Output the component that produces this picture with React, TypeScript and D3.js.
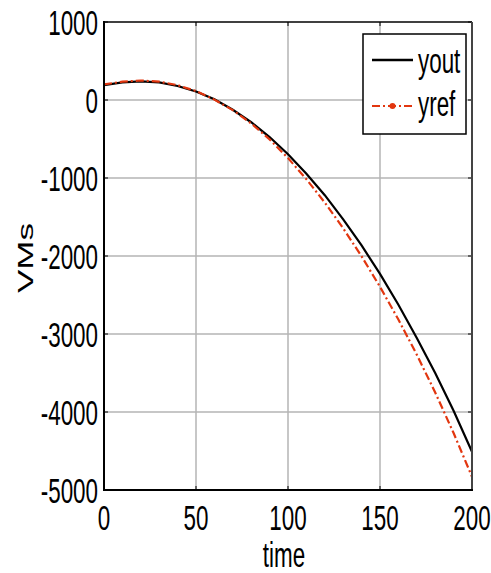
import React from 'react'
import * as d3 from 'd3'

const width = 491
const height = 573

// time samples and the two signals
const times = [0, 10, 20, 30, 40, 50, 60, 70, 80, 90, 100, 110, 120, 130, 140, 150, 160, 170, 180, 190, 200]
const yout = [190, 225, 240, 225, 180, 110, 10, -125, -285, -475, -695, -945, -1220, -1530, -1865, -2230, -2625, -3050, -3500, -3985, -4510]
const yref = [200, 235, 250, 235, 190, 115, 5, -130, -300, -505, -745, -1015, -1315, -1645, -2005, -2395, -2815, -3265, -3750, -4270, -4830]

const xTicks = [0, 50, 100, 150, 200]
const yTicks = [1000, 0, -1000, -2000, -3000, -4000, -5000]

const RED = '#e2360f'
const FONT = 'Liberation Sans, Arial, sans-serif'
const SX = 0.64

export default function App() {
    const left = 104, right = 472, top = 22, bottom = 490

    const x = d3.scaleLinear().domain([0, 200]).range([left, right])
    const y = d3.scaleLinear().domain([-5000, 1000]).range([bottom, top])

    const line = d3.line<number>()
        .x((_, i) => x(times[i]))
        .y(d => y(d))

    return (
        <svg width={width} height={height} style={{position: 'absolute', left: 0, top: 0, background: '#fff'}}>
            {/* grid */}
            {xTicks.slice(1, -1).map(t =>
                <line key={'gx' + t} x1={x(t)} x2={x(t)} y1={top} y2={bottom} stroke="#b4b4b4" strokeWidth={1.5} />
            )}
            {yTicks.slice(1, -1).map(t =>
                <line key={'gy' + t} x1={left} x2={right} y1={y(t)} y2={y(t)} stroke="#b4b4b4" strokeWidth={1.5} />
            )}

            {/* tick marks */}
            {xTicks.map(t => (
                <g key={'tx' + t}>
                    <line x1={x(t)} x2={x(t)} y1={bottom} y2={bottom - 4} stroke="#000" />
                    <line x1={x(t)} x2={x(t)} y1={top} y2={top + 4} stroke="#000" />
                </g>
            ))}
            {yTicks.map(t => (
                <g key={'ty' + t}>
                    <line x1={left} x2={left + 4} y1={y(t)} y2={y(t)} stroke="#000" />
                    <line x1={right} x2={right - 4} y1={y(t)} y2={y(t)} stroke="#000" />
                </g>
            ))}

            {/* series */}
            <path d={line(yout) || ''} fill="none" stroke="#000" strokeWidth={2.2} />
            <path d={line(yref) || ''} fill="none" stroke={RED} strokeWidth={2.2} strokeDasharray="8,3,2,3" />

            {/* frame */}
            <line x1={left} x2={right} y1={top} y2={top} stroke="#000" strokeWidth={1.5} />
            <line x1={right} x2={right} y1={top} y2={bottom} stroke="#444" strokeWidth={2} />
            <line x1={left} x2={left} y1={top - 1} y2={bottom + 1} stroke="#000" strokeWidth={2} />
            <line x1={left} x2={right + 1} y1={bottom} y2={bottom} stroke="#000" strokeWidth={2} />

            {/* tick labels */}
            {yTicks.map(t =>
                <text key={'ly' + t} transform={`translate(${left - 6},${y(t) + 12.5}) scale(${SX},1)`}
                    textAnchor="end" fontFamily={FONT} fontSize={35}>{t}</text>
            )}
            {xTicks.map(t =>
                <text key={'lx' + t} transform={`translate(${x(t)},530) scale(${SX},1)`}
                    textAnchor="middle" fontFamily={FONT} fontSize={35}>{t}</text>
            )}

            {/* axis labels */}
            <text transform={`translate(284,567) scale(${SX},1)`} textAnchor="middle" fontFamily={FONT} fontSize={35}>time</text>
            <text transform={`translate(33,258) rotate(-90) scale(1,${SX})`} textAnchor="middle" fontFamily={FONT} fontSize={35}>VMs</text>

            {/* legend */}
            <rect x={363} y={34} width={103} height={100} fill="#fff" stroke="#000" strokeWidth={1.5} />
            <line x1={372} x2={413} y1={60} y2={60} stroke="#000" strokeWidth={2.5} />
            <line x1={372} x2={413} y1={106} y2={106} stroke={RED} strokeWidth={2.2} strokeDasharray="8,3,2,3" />
            <circle cx={392.5} cy={106} r={3} fill={RED} />
            <text transform={`translate(418,73) scale(${SX},1)`} fontFamily={FONT} fontSize={35}>yout</text>
            <text transform={`translate(418,116) scale(${SX},1)`} fontFamily={FONT} fontSize={35}>yref</text>
        </svg>
    )
}
